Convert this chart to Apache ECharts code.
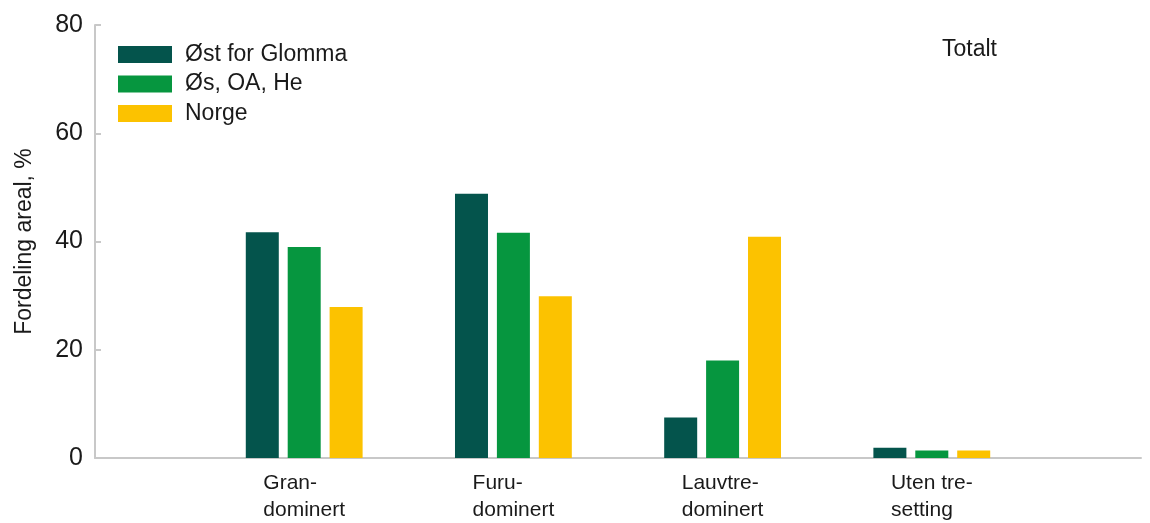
<!DOCTYPE html>
<html>
<head>
<meta charset="utf-8">
<script src="https://cdn.jsdelivr.net/npm/echarts@6/dist/echarts.min.js"></script>
<style>
html, body { margin: 0; padding: 0; background: #fff; }
#chart { width: 1150px; height: 523px; }
</style>
</head>
<body>
<div id="chart"></div>
<script>
// categories (empty slots at each end keep the groups where the original puts them)
var categories = ['', 'Gran-\ndominert', 'Furu-\ndominert', 'Lauvtre-\ndominert', 'Uten tre-\nsetting', ''];
var seriesNames = ['Øst for Glomma', 'Øs, OA, He', 'Norge'];
var ostForGlomma = [null, 41.7, 48.8, 7.5, 1.9, null];
var osOaHe = [null, 39.0, 41.6, 18.0, 1.4, null];
var norge = [null, 27.9, 29.9, 40.9, 1.4, null];
var yTicks = [0, 20, 40, 60, 80];

var colors = ['#04544c', '#06963f', '#fcc200'];
var axisGray = '#c8c8c8';

var myChart = echarts.init(document.getElementById('chart'));

function barSeries(name, data, color) {
    return {
        name: name,
        type: 'bar',
        data: data,
        barWidth: 33,
        barGap: '27%',
        itemStyle: { color: color },
        emphasis: { disabled: true }
    };
}

var option = {
    backgroundColor: '#fff',
    animation: false,
    textStyle: { fontFamily: 'Liberation Sans, Arial, sans-serif', color: '#1a1a1a' },
    title: {
        text: 'Totalt',
        left: 937,
        top: 33,
        textStyle: { fontSize: 23, fontWeight: 'normal', color: '#1a1a1a' }
    },
    legend: {
        orient: 'vertical',
        left: 113,
        top: 38,
        itemWidth: 54,
        itemHeight: 17,
        itemGap: 6.5,
        icon: 'rect',
        data: seriesNames,
        textStyle: { fontSize: 23, color: '#1a1a1a', padding: [0, 0, 0, 8] }
    },
    grid: { left: 95, right: 9, top: 25, bottom: 65 },
    xAxis: {
        type: 'category',
        data: categories,
        boundaryGap: false,
        axisLine: { lineStyle: { color: axisGray, width: 2 } },
        axisTick: { show: false },
        axisLabel: {
            interval: 0,
            margin: 12,
            formatter: function (v) {
                if (!v) return '';
                return v.split('\n').map(function (s) { return '{l|' + s + '}'; }).join('\n');
            },
            rich: {
                l: { align: 'left', fontSize: 21, lineHeight: 27, color: '#1a1a1a' }
            }
        }
    },
    yAxis: {
        type: 'value',
        min: yTicks[0],
        max: yTicks[yTicks.length - 1],
        interval: 20,
        name: 'Fordeling areal, %',
        nameLocation: 'middle',
        nameGap: 59,
        nameTextStyle: { fontSize: 23, color: '#1a1a1a' },
        axisLine: { show: true, lineStyle: { color: axisGray, width: 2 } },
        axisTick: { show: true, inside: true, length: 6, lineStyle: { color: axisGray, width: 2 } },
        axisLabel: { fontSize: 25, color: '#1a1a1a', margin: 12 },
        splitLine: { show: false }
    },
    series: [
        barSeries(seriesNames[0], ostForGlomma, colors[0]),
        barSeries(seriesNames[1], osOaHe, colors[1]),
        barSeries(seriesNames[2], norge, colors[2])
    ]
};

myChart.setOption(option);
</script>
</body>
</html>
